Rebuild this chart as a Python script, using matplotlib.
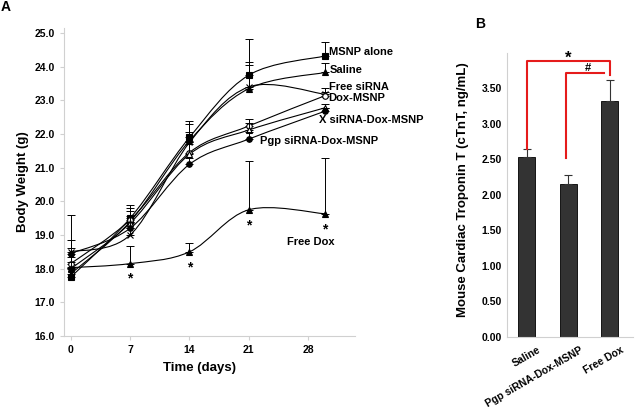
import numpy as np
import matplotlib
matplotlib.use("Agg")
import matplotlib.pyplot as plt
import matplotlib.transforms as mtransforms
from matplotlib.path import Path
from matplotlib.patches import PathPatch

plt.rcParams['font.family'] = ['Liberation Sans', 'DejaVu Sans']
plt.rcParams['font.weight'] = 'bold'

# ---- panel A data: body weight (g) ----
days = [0, 7, 14, 21, 30]
msnp_alone = [17.75, 19.5, 21.9, 23.75, 24.32]
saline = [17.85, 19.4, 21.8, 23.35, 23.83]
free_sirna = [18.5, 19.0, 21.75, 23.4, 23.18]
dox_msnp = [18.15, 19.45, 21.45, 22.24, 23.14]
x_sirna = [18.0, 19.35, 21.4, 22.12, 22.78]
pgp_sirna = [18.45, 19.2, 21.1, 21.85, 22.68]
free_dox = [18.03, 18.15, 18.5, 19.75, 19.63]

err_msnp = [1.85, 0.3, 0.49, 1.07, 0.41]
err_saline = [0.2, 0.3, 0.5, 0.78, 0.29]
err_free_sirna = [0.1, 0.2, 0.3, 0.65, 0.2]
err_dox = [0.2, 0.45, 0.3, 0.2, 0.1]
err_x = [0.2, 0.2, 0.3, 0.2, 0.1]
err_pgp = [0.4, 0.2, 0.2, 0.2, 0.1]
err_free_dox = [0.0, 0.52, 0.25, 1.45, 1.66]

# ---- panel B data: cTnT (ng/mL) ----
groups = ['Saline', 'Pgp siRNA-Dox-MSNP', 'Free Dox']
ctnt = [2.53, 2.16, 3.32]
ctnt_err = [0.11, 0.12, 0.29]


def smooth_line(ax, x, y, lw=0.8):
    # Excel style smoothed line through the points (Bezier)
    x = np.asarray(x, float)
    y = np.asarray(y, float)
    pts = np.column_stack([x, y])
    ext = np.vstack([pts[0], pts, pts[-1]])
    verts = [pts[0]]
    codes = [Path.MOVETO]
    for i in range(len(pts) - 1):
        p0, p1, p2, p3 = ext[i], ext[i + 1], ext[i + 2], ext[i + 3]
        c1 = p1 + (p2 - p0) / 6.0
        c2 = p2 - (p3 - p1) / 6.0
        verts += [c1, c2, p2]
        codes += [Path.CURVE4] * 3
    ax.add_patch(PathPatch(Path(verts, codes), fill=False, lw=lw, ec='black'))


fig = plt.figure(figsize=(6.35, 4.12), dpi=100)

# ---------------- panel A ----------------
axA = fig.add_axes([0.1008, 0.1845, 0.458, 0.7476])
series = [
    (msnp_alone, err_msnp, 's', 'black'),
    (saline, err_saline, '^', 'black'),
    (free_sirna, err_free_sirna, 'x', 'black'),
    (dox_msnp, err_dox, 'o', 'white'),
    (x_sirna, err_x, '^', 'white'),
    (pgp_sirna, err_pgp, 'o', 'black'),
    (free_dox, err_free_dox, '^', 'black'),
]
for vals, err, mk, fc in series:
    smooth_line(axA, days, vals)
    axA.errorbar(days, vals, yerr=[np.zeros(len(err)), err], fmt='none',
                 ecolor='black', elinewidth=0.7, capsize=3, capthick=0.7)
    axA.plot(days, vals, ls='none', marker=mk, ms=4, mfc=fc, mec='black', mew=0.8)

for d, v in zip(days[1:], free_dox[1:]):
    axA.annotate('*', (d, v), xytext=(0, -11), textcoords='offset points',
                 ha='center', va='center', fontsize=10)

lab_kw = dict(fontsize=8, fontweight='bold', va='center', ha='left')
axA.text(30.5, 24.45, 'MSNP alone', **lab_kw)
axA.text(30.5, 23.9, 'Saline', **lab_kw)
axA.text(30.4, 23.4, 'Free siRNA', **lab_kw)
axA.text(30.4, 23.08, 'Dox-MSNP', **lab_kw)
axA.text(29.3, 22.42, 'X siRNA-Dox-MSNP', **lab_kw)
axA.text(22.3, 21.8, 'Pgp siRNA-Dox-MSNP', **lab_kw)
axA.text(25.5, 18.78, 'Free Dox', **lab_kw)

axA.set_xlim(-0.8, 33.5)
axA.set_ylim(16, 25.15)
axA.set_xticks([0, 7, 14, 21, 28])
axA.set_yticks(np.arange(16, 25.1, 1.0))
axA.set_yticklabels([f'{v:.1f}' for v in np.arange(16, 25.1, 1.0)])
axA.set_xlabel('Time (days)', fontsize=9.5, fontweight='bold')
axA.xaxis.set_label_coords(0.466, -0.085)
axA.set_ylabel('Body Weight (g)', fontsize=9.5, fontweight='bold')
for s in ['top', 'right']:
    axA.spines[s].set_visible(False)
for s in ['left', 'bottom']:
    axA.spines[s].set_color('#d0d0d0')
axA.tick_params(colors='#d0d0d0', labelcolor='black', labelsize=7.5, length=3)
fig.text(0.001, 0.982, 'A', fontsize=10, fontweight='bold', va='center')

# ---------------- panel B ----------------
axB = fig.add_axes([0.798, 0.182, 0.1984, 0.690])
xb = np.arange(len(groups))
axB.bar(xb, ctnt, width=0.41, color='#333333', edgecolor='black', lw=0.6)
axB.errorbar(xb, ctnt, yerr=[np.zeros(3), ctnt_err], fmt='none', ecolor='#333333',
             elinewidth=0.8, capsize=3, capthick=0.8)

red = '#e51b1b'
axB.plot([0, 0, 2, 2], [ctnt[0] + ctnt_err[0], 3.88, 3.88, 3.68], color=red, lw=1.5,
         clip_on=False)
axB.plot([0.95, 0.95, 1.87], [2.52, 3.72, 3.72], color=red, lw=1.5, clip_on=False)
axB.text(1.0, 3.92, '*', fontsize=12, ha='center', va='center', fontweight='bold')
axB.text(1.48, 3.78, '#', fontsize=8, ha='center', va='center', fontweight='bold')

axB.set_xlim(-0.48, 2.55)
axB.set_ylim(0, 4.0)
axB.set_yticks(np.arange(0, 3.51, 0.5))
axB.set_yticklabels([f'{v:.2f}' for v in np.arange(0, 3.51, 0.5)])
axB.set_xticks(xb)
axB.set_xticklabels([])
# rotated category labels, shifted right of the tick like the original
shift = mtransforms.ScaledTranslation(11 / 100, -8 / 100, fig.dpi_scale_trans)
for i, name in enumerate(groups):
    axB.text(i, 0, name, transform=axB.get_xaxis_transform() + shift,
             rotation=30, ha='right', va='top', rotation_mode='anchor',
             fontsize=7.5, fontweight='bold')
axB.set_ylabel('Mouse Cardiac Troponin T (cTnT, ng/mL)', fontsize=9.5, fontweight='bold')
axB.yaxis.set_label_coords(-0.30, 0.52)
for s in ['top', 'right']:
    axB.spines[s].set_visible(False)
for s in ['left', 'bottom']:
    axB.spines[s].set_color('#d0d0d0')
axB.tick_params(colors='#d0d0d0', labelcolor='black', labelsize=7.5, length=0)
fig.text(0.756, 0.942, 'B', fontsize=10, fontweight='bold', va='center', ha='center')

fig.savefig('out.png', dpi=100)
